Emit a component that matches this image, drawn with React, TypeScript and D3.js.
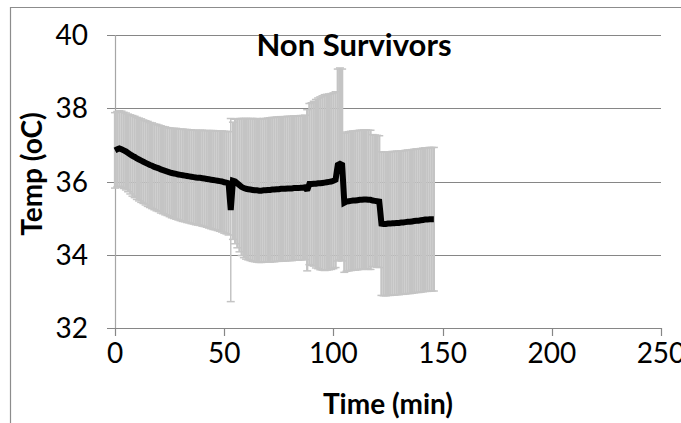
import React from "react";
import * as d3 from "d3";

// Time in minutes: one sample per minute, 0..146
const startMinute = 0;

// Mean temperature (°C), one value per minute
const meanTemp: number[] = [
  36.85, 36.88, 36.90, 36.88, 36.85, 36.82, 36.78, 36.74, 36.70, 36.67,
  36.63, 36.60, 36.57, 36.54, 36.51, 36.48, 36.45, 36.43, 36.40, 36.38,
  36.36, 36.33, 36.31, 36.29, 36.27, 36.25, 36.23, 36.22, 36.21, 36.19,
  36.18, 36.17, 36.16, 36.15, 36.14, 36.13, 36.12, 36.11, 36.10, 36.10,
  36.09, 36.08, 36.07, 36.06, 36.05, 36.04, 36.03, 36.02, 36.01, 36.00,
  35.98, 35.97, 35.95, 35.22, 36.02, 36.00, 35.95, 35.90, 35.85, 35.82,
  35.80, 35.79, 35.78, 35.77, 35.76, 35.76, 35.75, 35.75, 35.76, 35.76,
  35.77, 35.77, 35.78, 35.78, 35.79, 35.79, 35.80, 35.80, 35.80, 35.81,
  35.81, 35.81, 35.82, 35.82, 35.82, 35.83, 35.83, 35.84, 35.76, 35.93,
  35.93, 35.94, 35.94, 35.95, 35.95, 35.96, 35.97, 35.98, 35.99, 36.00,
  36.02, 36.05, 36.45, 36.48, 36.45, 35.42, 35.45, 35.46, 35.47, 35.48,
  35.48, 35.49, 35.50, 35.50, 35.51, 35.51, 35.50, 35.50, 35.48, 35.47,
  35.46, 35.45, 34.85, 34.84, 34.84, 34.85, 34.85, 34.86, 34.86, 34.87,
  34.87, 34.88, 34.88, 34.89, 34.90, 34.90, 34.91, 34.92, 34.93, 34.93,
  34.94, 34.95, 34.96, 34.96, 34.97, 34.97, 34.97,
];

// Standard deviation (°C), one value per minute
const sdTemp: number[] = [
  1.03, 1.03, 1.03, 1.04, 1.04, 1.05, 1.06, 1.08, 1.10, 1.11,
  1.12, 1.13, 1.14, 1.14, 1.15, 1.16, 1.16, 1.17, 1.17, 1.18,
  1.18, 1.19, 1.19, 1.20, 1.20, 1.21, 1.22, 1.23, 1.24, 1.24,
  1.25, 1.26, 1.26, 1.27, 1.27, 1.28, 1.28, 1.29, 1.29, 1.30,
  1.31, 1.31, 1.32, 1.33, 1.34, 1.35, 1.35, 1.36, 1.37, 1.38,
  1.39, 1.40, 1.41, 2.50, 1.60, 1.70, 1.76, 1.82, 1.87, 1.90,
  1.92, 1.93, 1.94, 1.95, 1.95, 1.96, 1.96, 1.96, 1.96, 1.96,
  1.96, 1.97, 1.97, 1.97, 1.97, 1.97, 1.97, 1.97, 1.97, 1.97,
  1.97, 1.97, 1.97, 1.97, 1.97, 1.97, 1.97, 1.97, 2.20, 2.20,
  2.22, 2.25, 2.30, 2.33, 2.36, 2.38, 2.40, 2.40, 2.40, 2.40,
  2.40, 2.40, 2.62, 2.62, 2.62, 1.90, 1.90, 1.90, 1.90, 1.90,
  1.90, 1.90, 1.90, 1.90, 1.90, 1.90, 1.90, 1.90, 1.80, 1.80,
  1.80, 1.80, 1.96, 1.96, 1.96, 1.96, 1.96, 1.96, 1.96, 1.96,
  1.96, 1.96, 1.96, 1.96, 1.96, 1.96, 1.96, 1.96, 1.96, 1.96,
  1.96, 1.96, 1.96, 1.96, 1.96, 1.96, 1.96,
];

const xTicks: number[] = [0, 50, 100, 150, 200, 250];
const yTicks: number[] = [32, 34, 36, 38, 40];

const chartTitle = "Non Survivors";
const xTitle = "Time (min)";
const yTitle = "Temp (oC)";

const W = 681;
const H = 423;
const FONT = "Lato, 'Open Sans', sans-serif";

export default function App() {
  const x = d3.scaleLinear().domain([0, 250]).range([115, 661]);
  const y = d3.scaleLinear().domain([32, 40]).range([328, 35]);

  const pts = meanTemp.map((m, i) => ({ t: startMinute + i, m, sd: sdTemp[i] }));

  const line = d3
    .line<{ t: number; m: number }>()
    .x((d) => x(d.t))
    .y((d) => y(d.m));

  const capHalf = 4;

  return (
    <svg
      width={W}
      height={H}
      style={{ position: "absolute", left: 0, top: 0, background: "#fff" }}
    >
      <rect x={0} y={0} width={W} height={H} fill="#fff" />
      {/* chart area border */}
      <path d={`M10.5,${H + 2} V7.5 H${W + 2}`} fill="none" stroke="#8c8c8c" strokeWidth={1.2} />

      {/* gridlines */}
      {yTicks.map((v) => (
        <line
          key={"g" + v}
          x1={107}
          x2={661}
          y1={Math.round(y(v)) + 0.5}
          y2={Math.round(y(v)) + 0.5}
          stroke="#868686"
          strokeWidth={1.2}
        />
      ))}
      {/* y axis */}
      <line x1={115.5} x2={115.5} y1={y(40)} y2={y(32)} stroke="#a6a6a6" strokeWidth={1.2} />
      {/* x ticks */}
      {xTicks.map((v) => (
        <line
          key={"xt" + v}
          x1={Math.round(x(v)) + 0.5}
          x2={Math.round(x(v)) + 0.5}
          y1={y(32)}
          y2={y(32) + 8}
          stroke="#868686"
          strokeWidth={1.2}
        />
      ))}

      {/* error bars */}
      <g stroke="#c4c4c4">
        {pts.map((d) => {
          const cx = x(d.t);
          const top = y(d.m + d.sd);
          const bot = y(d.m - d.sd);
          const thin = d.sd > 2.45 && d.t < 60;
          return (
            <g key={"e" + d.t}>
              <line x1={cx} x2={cx} y1={top} y2={bot} strokeWidth={thin ? 1.5 : 2.3} />
              <line x1={cx - capHalf} x2={cx + capHalf} y1={top} y2={top} strokeWidth={1.5} />
              <line x1={cx - capHalf} x2={cx + capHalf} y1={bot} y2={bot} strokeWidth={1.5} />
            </g>
          );
        })}
      </g>

      {/* mean line */}
      <path
        d={line(pts) || ""}
        fill="none"
        stroke="#000"
        strokeWidth={6}
        strokeLinejoin="miter"
        strokeMiterlimit={2}
      />

      {/* y tick labels */}
      {yTicks.map((v) => (
        <text
          key={"yl" + v}
          x={88}
          y={y(v)}
          dy="0.36em"
          textAnchor="end"
          fontFamily={FONT}
          fontSize={28}
          fill="#000"
        >
          {v}
        </text>
      ))}
      {/* x tick labels */}
      {xTicks.map((v) => (
        <text
          key={"xl" + v}
          x={x(v)}
          y={363}
          textAnchor="middle"
          fontFamily={FONT}
          fontSize={28}
          fill="#000"
        >
          {v}
        </text>
      ))}

      {/* titles */}
      <text
        x={354}
        y={56}
        textAnchor="middle"
        fontFamily={FONT}
        fontWeight="bold"
        fontSize={31}
        fill="#000"
      >
        {chartTitle}
      </text>
      <text
        x={388}
        y={414}
        textAnchor="middle"
        fontFamily={FONT}
        fontWeight="bold"
        fontSize={28}
        fill="#000"
      >
        {xTitle}
      </text>
      <text
        transform={`translate(42,174) rotate(-90)`}
        textAnchor="middle"
        fontFamily={FONT}
        fontWeight="bold"
        fontSize={28}
        fill="#000"
      >
        {yTitle}
      </text>
    </svg>
  );
}
